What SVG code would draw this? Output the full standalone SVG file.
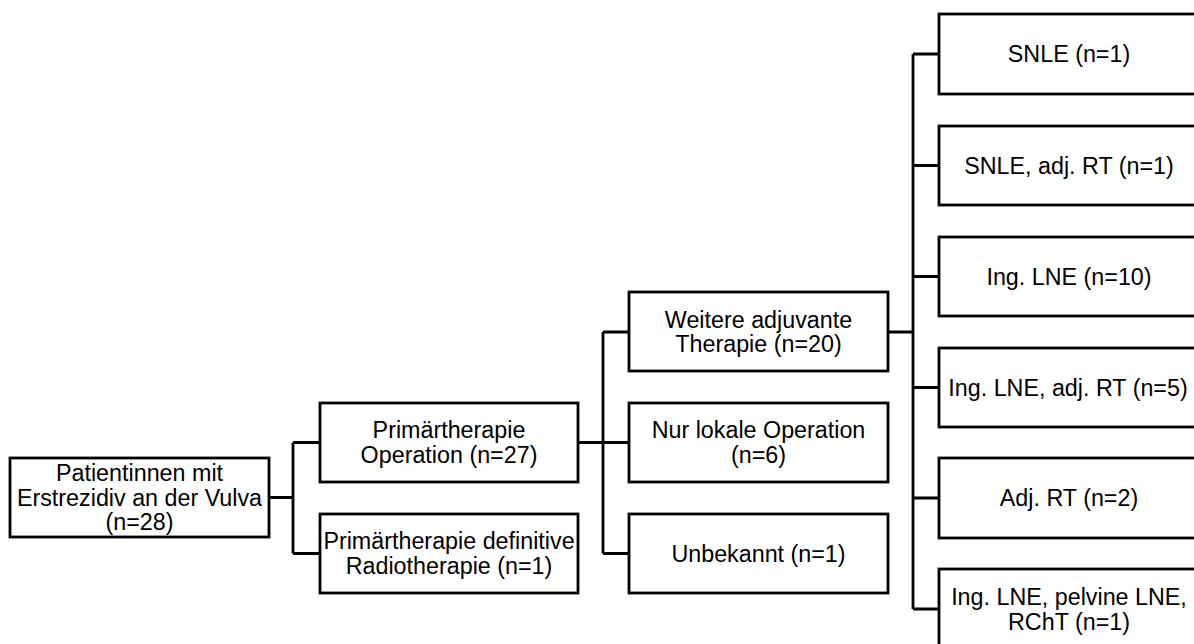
<svg xmlns="http://www.w3.org/2000/svg" width="1194" height="644" viewBox="0 0 1194 644">
<style>
.box{fill:#fff;stroke:#000;stroke-width:2.8}
.t{font-family:"Liberation Sans",Arial,sans-serif;font-size:23.3px;fill:#000;text-anchor:middle}
.c{fill:none;stroke:#000;stroke-width:2.8}
</style>
<rect width="1194" height="644" fill="#fff"/>
<g id="connectors">
<path class="c" d="M269 497.5H293M293 442.5V553.5M293 442.5H320M293 553.5H320"/>
<path class="c" d="M578 442.5H603M603 332V553.5M603 332H629M603 442.5H629M603 553.5H629"/>
<path class="c" d="M888 332H913M913 54V609M913 54H939M913 165.5H939M913 276.5H939M913 387.5H939M913 498H939M913 609H939"/>
</g>
<g id="n_root"><rect class="box" x="10" y="458" width="259" height="79"/>
<text class="t" x="139.5" y="481">Patientinnen mit</text><text class="t" x="139.5" y="505.5">Erstrezidiv an der Vulva</text><text class="t" x="139.5" y="530">(n=28)</text></g>
<g id="n_op"><rect class="box" x="320" y="403" width="258" height="79"/>
<text class="t" x="449" y="438">Primärtherapie</text><text class="t" x="449" y="462.5">Operation (n=27)</text></g>
<g id="n_rt"><rect class="box" x="320" y="514" width="258" height="79"/>
<text class="t" x="449" y="549">Primärtherapie definitive</text><text class="t" x="449" y="573.5">Radiotherapie (n=1)</text></g>
<g id="n_adj"><rect class="box" x="629" y="292" width="259" height="79"/>
<text class="t" x="758.5" y="327.5">Weitere adjuvante</text><text class="t" x="758.5" y="352">Therapie (n=20)</text></g>
<g id="n_lokal"><rect class="box" x="629" y="403" width="259" height="79"/>
<text class="t" x="758.5" y="438">Nur lokale Operation</text><text class="t" x="758.5" y="462.5">(n=6)</text></g>
<g id="n_unb"><rect class="box" x="629" y="514" width="259" height="79"/>
<text class="t" x="758.5" y="561.5">Unbekannt (n=1)</text></g>
<g id="n_snle"><rect class="box" x="939" y="14" width="260" height="80"/>
<text class="t" x="1069" y="62">SNLE (n=1)</text></g>
<g id="n_snle_rt"><rect class="box" x="939" y="126" width="260" height="79"/>
<text class="t" x="1069" y="173.5">SNLE, adj. RT (n=1)</text></g>
<g id="n_ing"><rect class="box" x="939" y="237" width="260" height="79"/>
<text class="t" x="1069" y="284.5">Ing. LNE (n=10)</text></g>
<g id="n_ing_rt"><rect class="box" x="939" y="348" width="260" height="79"/>
<text class="t" x="1068" y="395.5">Ing. LNE, adj. RT (n=5)</text></g>
<g id="n_adjrt"><rect class="box" x="939" y="458" width="260" height="80"/>
<text class="t" x="1069" y="506">Adj. RT (n=2)</text></g>
<g id="n_pelv"><rect class="box" x="939" y="569" width="260" height="80"/>
<text class="t" x="1069" y="605">Ing. LNE, pelvine LNE,</text><text class="t" x="1069" y="629.5">RChT (n=1)</text></g>
</svg>
